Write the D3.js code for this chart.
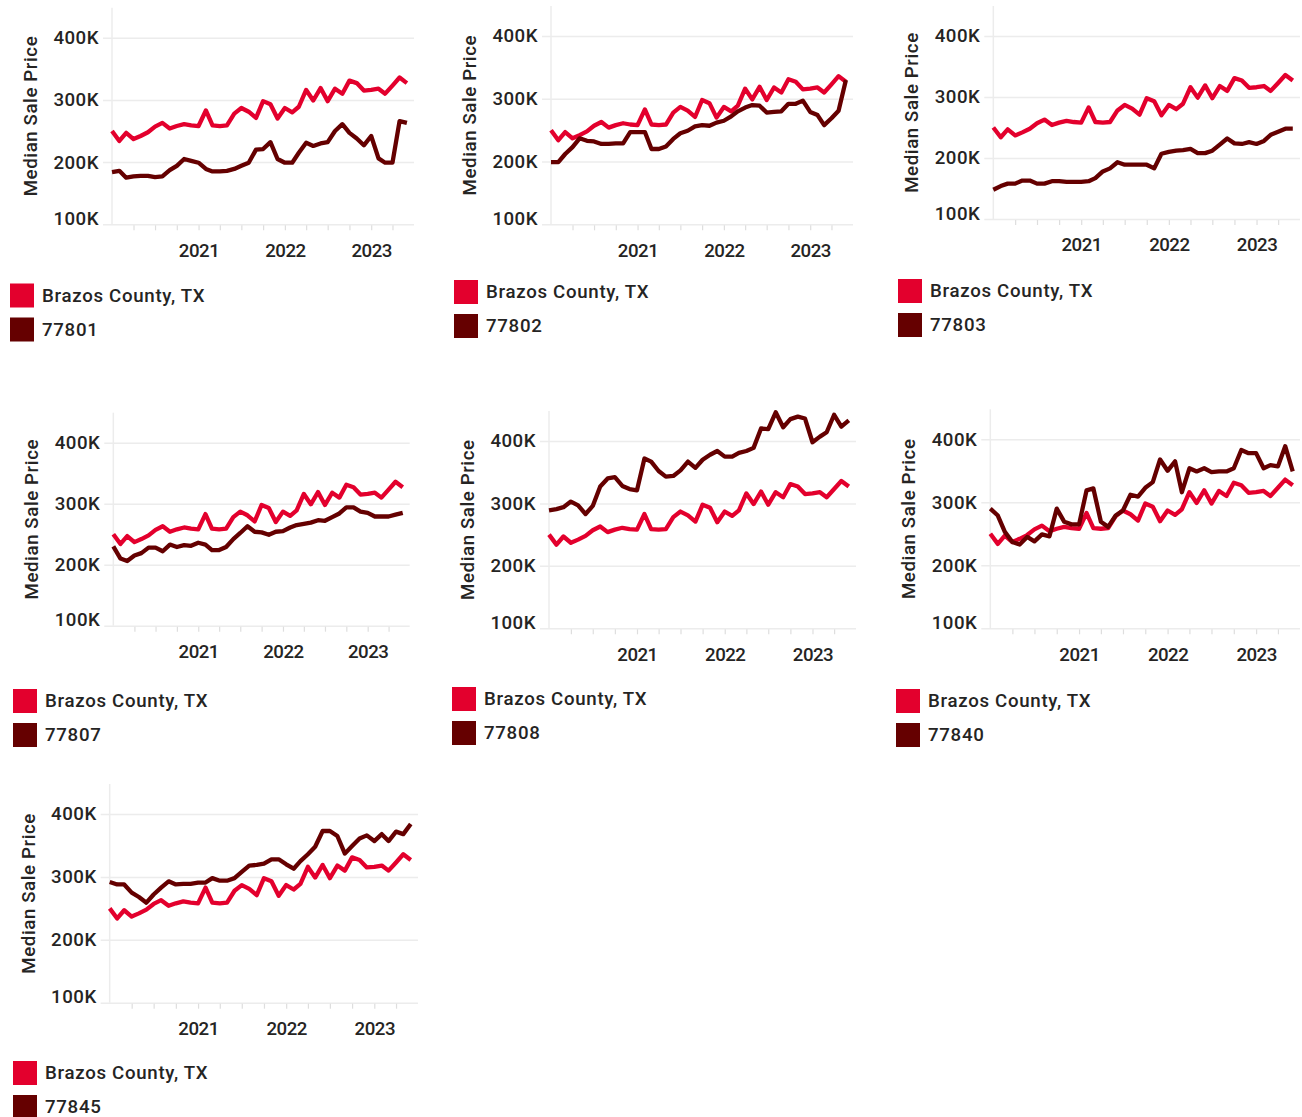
<!DOCTYPE html>
<html>
<head>
<meta charset="utf-8">
<script src="https://cdn.jsdelivr.net/npm/d3@7"></script>
<style>
    body { margin: 0; background: #fff; }
    svg { font-family: Roboto, "DejaVu Sans", sans-serif; }
</style>
</head>
<body>
<svg id="root" width="1302" height="1117"></svg>
<script>
// monthly median sale price, in thousands of dollars
const months = [
    "2020-01", "2020-02", "2020-03", "2020-04", "2020-05", "2020-06",
    "2020-07", "2020-08", "2020-09", "2020-10", "2020-11", "2020-12",
    "2021-01", "2021-02", "2021-03", "2021-04", "2021-05", "2021-06",
    "2021-07", "2021-08", "2021-09", "2021-10", "2021-11", "2021-12",
    "2022-01", "2022-02", "2022-03", "2022-04", "2022-05", "2022-06",
    "2022-07", "2022-08", "2022-09", "2022-10", "2022-11", "2022-12",
    "2023-01", "2023-02", "2023-03", "2023-04", "2023-05", "2023-06",
];

const brazos = [
    250, 234, 247, 237, 242, 248, 257, 263, 254, 258, 261, 259,
    258, 283, 259, 258, 259, 278, 287, 281, 271, 298, 293, 270,
    287, 280, 289, 316, 299, 319, 298, 318, 310, 331, 327, 315,
    316, 318, 310, 323, 336, 327,
];
const zip77801 = [
    184, 186, 175, 177, 178, 178, 176, 177, 187, 194, 205, 202,
    199, 189, 185, 185, 186, 189, 194, 199, 220, 221, 232, 205,
    199, 199, 215, 231, 226, 230, 232, 250, 261, 247, 238, 227,
    242, 206, 199, 199, 266, 263,
];
const zip77802 = [
    199, 199, 212, 223, 237, 233, 232, 228, 228, 229, 229, 247,
    247, 247, 220, 220, 224, 236, 245, 249, 256, 258, 257, 262,
    265, 272, 280, 286, 290, 289, 278, 279, 280, 292, 292, 297,
    279, 274, 258, 269, 281, 330,
];
const zip77803 = [
    148, 154, 158, 158, 163, 163, 158, 158, 162, 162, 161, 161,
    161, 162, 167, 178, 183, 193, 189, 189, 189, 189, 183, 207,
    210, 212, 213, 215, 208, 208, 212, 222, 232, 224, 223, 226,
    223, 228, 238, 243, 248, 248,
];
const zip77807 = [
    230, 210, 206, 215, 219, 228, 228, 222, 233, 229, 232, 231,
    236, 233, 224, 224, 229, 242, 252, 263, 254, 253, 249, 254,
    255, 261, 265, 267, 269, 273, 272, 278, 284, 294, 294, 287,
    285, 279, 279, 279, 282, 285,
];
const zip77808 = [
    289, 291, 294, 303, 297, 283, 296, 327, 340, 342, 328, 323,
    321, 372, 367, 352, 343, 344, 353, 367, 357, 370, 378, 384,
    375, 375, 381, 384, 389, 420, 419, 446, 422, 435, 439, 436,
    398, 407, 414, 442, 423, 433,
];
const zip77840 = [
    290, 279, 253, 237, 233, 245, 238, 249, 246, 290, 269, 265,
    265, 319, 322, 269, 261, 279, 287, 312, 309, 323, 332, 368,
    350, 365, 316, 354, 349, 354, 348, 349, 349, 354, 383, 378,
    378, 354, 359, 357, 389, 349,
];
const zip77845 = [
    292, 288, 288, 275, 268, 259, 272, 283, 293, 288, 289, 289,
    291, 291, 298, 294, 294, 298, 308, 318, 319, 321, 328, 328,
    320, 313, 325, 336, 348, 373, 373, 365, 337, 349, 361, 366,
    357, 368, 357, 372, 368, 384,
];

const countyName = "Brazos County, TX";
const zipCodes = ["77801", "77802", "77803", "77807", "77808", "77840", "77845"];
const zipSeries = [zip77801, zip77802, zip77803, zip77807, zip77808, zip77840, zip77845];
const yTicks = [100, 200, 300, 400];
const xStart = "2020-01";
const xEnd = "2023-07";

const colors = { county: "#e3002d", zip: "#650000" };
const textColor = "#252423";
const gridColor = "#ececec";

// plot box of each small multiple
const layout = [
    { left: 112, right: 414, y100: 224.3, y400: 37.7, legX: 10, legY: 295.5 },
    { left: 551, right: 853, y100: 224.3, y400: 36, legX: 454, legY: 292 },
    { left: 993.3, right: 1300, y100: 219, y400: 36, legX: 898, legY: 291 },
    { left: 113.3, right: 409.7, y100: 625.7, y400: 442.7, legX: 13, legY: 701 },
    { left: 549, right: 856, y100: 628.3, y400: 441, legX: 452, legY: 699 },
    { left: 990.3, right: 1300, y100: 628.3, y400: 439.3, legX: 896, legY: 701 },
    { left: 109.7, right: 418, y100: 1002.7, y400: 814, legX: 13, legY: 1073 },
];

const main = () => {
    const svg = d3.select("#root");
    const parse = d3.timeParse("%Y-%m");
    const dates = months.map(parse);
    const fontSize = 18.67;

    zipCodes.forEach((zip, i) => {
        const box = layout[i];
        const top = box.y400 - 30;
        const g = svg.append("g");

        const x = d3
            .scaleTime()
            .domain([parse(xStart), parse(xEnd)])
            .range([box.left, box.right]);
        const y = d3
            .scaleLinear()
            .domain([100, 400])
            .range([box.y100, box.y400]);

        // gridlines + y labels
        const yAxis = d3
            .axisLeft(y)
            .tickValues(yTicks)
            .tickSize(-(box.right - box.left + 9))
            .tickPadding(4)
            .tickFormat((d) => d + "K");
        g.append("g")
            .attr("transform", `translate(${box.left - 9}, 0)`)
            .call(yAxis)
            .call((a) => a.select(".domain").remove())
            .call((a) =>
                a.selectAll(".tick line")
                    .attr("stroke", gridColor)
                    .attr("stroke-width", 1.5)
            )
            .call((a) =>
                a.selectAll(".tick text")
                    .attr("fill", textColor)
                    .style("font-size", fontSize + "px")
                    .style("font-family", "Roboto")
                    .style("font-weight", 500)
                    .style("letter-spacing", "0.5px")
                    .attr("dy", (d) => (d === 100 ? "-0.0em" : "0.32em"))
            );

        // left axis line
        g.append("line")
            .attr("x1", box.left)
            .attr("x2", box.left)
            .attr("y1", top)
            .attr("y2", box.y100)
            .attr("stroke", gridColor)
            .attr("stroke-width", 1.5);

        // x axis: quarter ticks, year labels
        const quarters = x
            .ticks(d3.timeMonth.every(3))
            .filter((d) => x(d) > box.left + 1 && x(d) < box.right - 1);
        const xAxis = d3
            .axisBottom(x)
            .tickValues(quarters)
            .tickSize(5)
            .tickFormat((d) => (d.getMonth() === 0 ? d3.timeFormat("%Y")(d) : ""));
        g.append("g")
            .attr("transform", `translate(0, ${box.y100 + 1})`)
            .call(xAxis)
            .call((a) => a.select(".domain").remove())
            .call((a) =>
                a.selectAll(".tick line")
                    .attr("stroke", "#dedede")
                    .attr("stroke-width", 1.2)
            )
            .call((a) =>
                a.selectAll(".tick text")
                    .attr("fill", textColor)
                    .attr("y", 18)
                    .style("font-size", fontSize + "px")
                    .style("font-family", "Roboto")
                    .style("font-weight", 500)
                    .style("letter-spacing", "-0.5px")
            );

        // y title
        g.append("text")
            .attr("transform", `translate(${box.left - 81}, ${(top + box.y100) / 2}) rotate(-90)`)
            .attr("text-anchor", "middle")
            .attr("dominant-baseline", "central")
            .attr("fill", textColor)
            .style("font-size", fontSize + "px")
            .style("font-weight", 500)
            .style("letter-spacing", "0.6px")
            .text("Median Sale Price");

        // lines
        const series = [
            { name: countyName, values: brazos, color: colors.county },
            { name: zip, values: zipSeries[i], color: colors.zip },
        ];
        const line = d3
            .line()
            .x((d, j) => x(dates[j]))
            .y((d) => y(d));

        g.selectAll("path.series")
            .data(series)
            .join("path")
            .attr("class", "series")
            .attr("d", (s) => line(s.values))
            .attr("fill", "none")
            .attr("stroke", (s) => s.color)
            .attr("stroke-width", 4.3)
            .attr("stroke-linejoin", "round");

        // legend
        const leg = g
            .selectAll("g.legend")
            .data(series)
            .join("g")
            .attr("class", "legend")
            .attr("transform", (s, j) => `translate(${box.legX}, ${box.legY + j * 34})`);
        leg.append("rect")
            .attr("x", 0)
            .attr("y", -12)
            .attr("width", 24)
            .attr("height", 24)
            .attr("fill", (s) => s.color);
        leg.append("text")
            .attr("x", 32)
            .attr("dominant-baseline", "central")
            .attr("fill", textColor)
            .style("font-size", fontSize + "px")
            .style("font-weight", 500)
            .style("letter-spacing", "0.7px")
            .text((s) => s.name);
    });
};

main();
</script>
</body>
</html>
